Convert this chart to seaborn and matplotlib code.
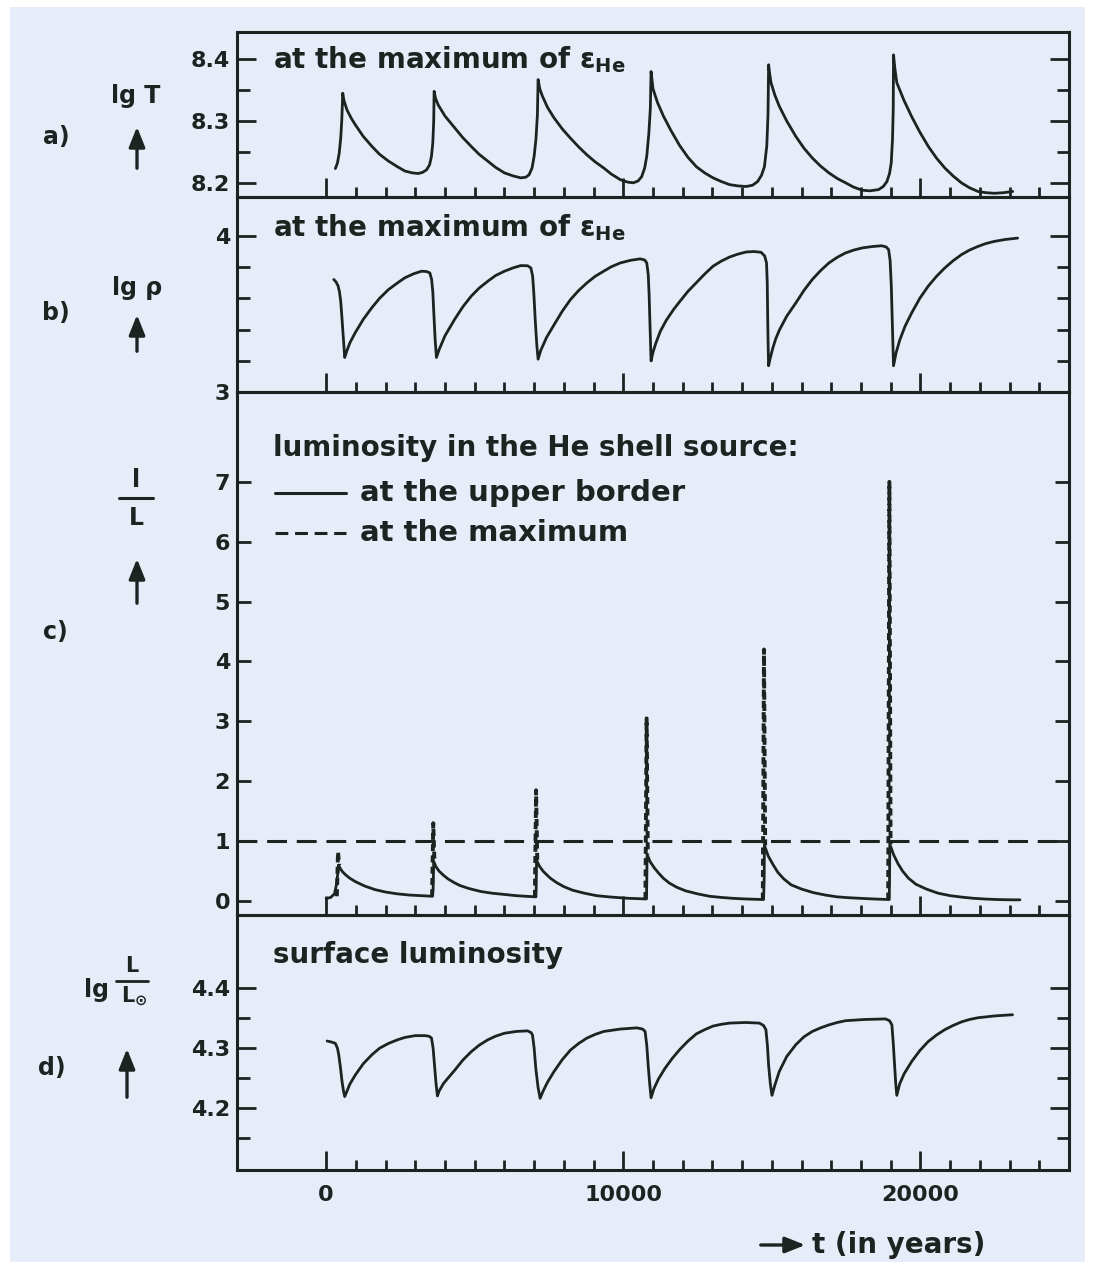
import matplotlib
matplotlib.use('Agg')
import matplotlib.pyplot as plt
import seaborn as sns
from matplotlib.lines import Line2D
from matplotlib.patches import Rectangle, FancyArrowPatch
from matplotlib.ticker import FixedLocator

# ---------------- data ----------------
# a) lg T at the maximum of eps_He
a_t = [310, 380, 440, 490, 525, 545, 558,
       600, 700, 850, 980, 1250, 1540, 1800, 2100, 2400, 2650, 2900, 3100, 3250, 3380, 3480, 3545, 3590, 3620, 3634,
       3680, 3770, 4000, 4325, 4600, 4880, 5150, 5440, 5700, 6000, 6300, 6550, 6720, 6830, 6930, 7000, 7060, 7110, 7133,
       7190, 7280, 7450, 7670, 7950, 8225, 8500, 8780, 9050, 9340, 9600, 9900, 10150, 10340, 10500, 10620, 10720, 10790, 10860, 10910, 10935,
       11000, 11150, 11350, 11600, 11900, 12180, 12460, 12740, 13020, 13300, 13580, 13850, 14130, 14350, 14520, 14650, 14750, 14830, 14870, 14891,
       14930, 14971, 15100, 15249, 15500, 15807, 16080, 16364, 16640, 16921, 17200, 17478, 17750, 18036, 18300, 18593, 18750, 18872, 18960, 19017, 19060, 19085, 19094,
       19140, 19205, 19450, 19706, 19980, 20263, 20540, 20820, 21100, 21378, 21650, 21935, 22200, 22492, 22800, 23107]
a_v = [8.223, 8.232, 8.248, 8.272, 8.300, 8.325, 8.345,
       8.333, 8.318, 8.304, 8.294, 8.275, 8.259, 8.246, 8.235, 8.226, 8.219, 8.216, 8.215, 8.217, 8.221, 8.229, 8.243, 8.265, 8.300, 8.348,
       8.337, 8.326, 8.308, 8.289, 8.273, 8.259, 8.246, 8.235, 8.225, 8.216, 8.211, 8.208, 8.209, 8.213, 8.224, 8.243, 8.270, 8.310, 8.367,
       8.352, 8.340, 8.322, 8.305, 8.287, 8.272, 8.258, 8.245, 8.234, 8.224, 8.214, 8.205, 8.201, 8.200, 8.203, 8.210, 8.224, 8.243, 8.280, 8.320, 8.380,
       8.352, 8.330, 8.308, 8.285, 8.260, 8.241, 8.226, 8.216, 8.208, 8.202, 8.197, 8.195, 8.194, 8.196, 8.202, 8.212, 8.226, 8.260, 8.310, 8.391,
       8.375, 8.362, 8.342, 8.324, 8.300, 8.275, 8.256, 8.240, 8.227, 8.216, 8.207, 8.200, 8.193, 8.188, 8.187, 8.189, 8.194, 8.202, 8.215, 8.232, 8.270, 8.320, 8.407,
       8.385, 8.362, 8.333, 8.307, 8.282, 8.259, 8.240, 8.224, 8.211, 8.200, 8.192, 8.186, 8.184, 8.183, 8.184, 8.186]

# b) lg rho at the maximum of eps_He
b_t = [257, 330, 400, 450, 490, 530, 570, 600, 625,
       700, 800, 980, 1250, 1540, 1800, 2100, 2400, 2650, 2950, 3210, 3380, 3490, 3550, 3590, 3630, 3670, 3712,
       3800, 4000, 4325, 4600, 4880, 5150, 5440, 5700, 6000, 6300, 6550, 6780, 6890, 6950, 6990, 7040, 7090, 7133,
       7220, 7420, 7670, 7950, 8225, 8500, 8780, 9050, 9340, 9600, 9900, 10250, 10570, 10720, 10790, 10840, 10870, 10900, 10935,
       11000, 11100, 11250, 11450, 11700, 11905, 12180, 12460, 12740, 13020, 13300, 13580, 13850, 14130, 14400, 14640, 14760, 14820, 14845, 14860, 14875, 14890,
       14950, 15030, 15130, 15250, 15500, 15810, 16080, 16360, 16640, 16920, 17200, 17480, 17750, 18040, 18380, 18700, 18850, 18930, 18980, 19020, 19060, 19094,
       19180, 19300, 19480, 19710, 19980, 20260, 20540, 20820, 21100, 21380, 21650, 21940, 22200, 22490, 22850, 23270]
b_v = [3.720, 3.705, 3.680, 3.640, 3.580, 3.480, 3.370, 3.290, 3.221,
       3.265, 3.315, 3.380, 3.465, 3.540, 3.600, 3.656, 3.698, 3.731, 3.757, 3.773, 3.771, 3.762, 3.720, 3.640, 3.480, 3.330, 3.221,
       3.270, 3.360, 3.465, 3.545, 3.613, 3.665, 3.709, 3.745, 3.773, 3.795, 3.809, 3.808, 3.794, 3.740, 3.630, 3.450, 3.300, 3.210,
       3.265, 3.350, 3.430, 3.518, 3.592, 3.650, 3.699, 3.740, 3.773, 3.802, 3.826, 3.843, 3.852, 3.845, 3.826, 3.750, 3.620, 3.420, 3.199,
       3.255, 3.315, 3.390, 3.460, 3.530, 3.580, 3.645, 3.700, 3.755, 3.805, 3.838, 3.864, 3.882, 3.896, 3.899, 3.894, 3.870, 3.826, 3.700, 3.465, 3.300, 3.168,
       3.220, 3.280, 3.340, 3.395, 3.485, 3.571, 3.650, 3.720, 3.777, 3.826, 3.862, 3.890, 3.908, 3.922, 3.931, 3.936, 3.928, 3.911, 3.840, 3.677, 3.400, 3.168,
       3.250, 3.330, 3.420, 3.508, 3.600, 3.677, 3.740, 3.794, 3.840, 3.879, 3.908, 3.932, 3.950, 3.964, 3.976, 3.985]

# c) l/L in the He shell source, at the upper border (solid)
c_t = [0, 150, 280, 350, 400, 420, 480, 550, 650, 800, 1000, 1300, 1650, 2000, 2400, 2800, 3200, 3580,
       3600, 3620, 3700, 3800, 3950, 4100, 4300, 4500, 4800, 5200, 5600, 6000, 6400, 6700, 7060,
       7070, 7080, 7180, 7300, 7420, 7550, 7750, 8000, 8300, 8700, 9100, 9500, 9900, 10200, 10780,
       10790, 10800, 10900, 11050, 11200, 11350, 11550, 11800, 12100, 12500, 12900, 13300, 13700, 14100, 14720,
       14740, 14750, 14880, 15050, 15200, 15400, 15650, 16000, 16400, 16800, 17200, 17600, 18000, 18400, 18950,
       18960, 18970, 19100, 19250, 19400, 19600, 19850, 20200, 20600, 21000, 21400, 21800, 22200, 22600, 23000, 23350]
c_v = [0.04, 0.06, 0.12, 0.28, 0.50, 0.60, 0.54, 0.49, 0.44, 0.38, 0.32, 0.25, 0.19, 0.15, 0.12, 0.10, 0.09, 0.08,
       0.20, 0.66, 0.57, 0.50, 0.43, 0.37, 0.31, 0.26, 0.21, 0.16, 0.13, 0.11, 0.09, 0.08, 0.07,
       0.25, 0.68, 0.58, 0.50, 0.44, 0.38, 0.31, 0.24, 0.18, 0.13, 0.09, 0.07, 0.055, 0.045, 0.035,
       0.30, 0.78, 0.66, 0.55, 0.46, 0.38, 0.30, 0.23, 0.17, 0.12, 0.08, 0.06, 0.045, 0.035, 0.025,
       0.35, 0.93, 0.75, 0.60, 0.48, 0.37, 0.27, 0.20, 0.14, 0.10, 0.07, 0.055, 0.045, 0.035, 0.025,
       0.35, 0.95, 0.77, 0.62, 0.50, 0.38, 0.28, 0.20, 0.13, 0.09, 0.065, 0.045, 0.033, 0.025, 0.021, 0.02]
# c) at the maximum (dashed spikes)
spike_t = [410, 3615, 7075, 10795, 14745, 18965]
spike_base = [0.08, 0.08, 0.07, 0.035, 0.025, 0.025]
spike_peak = [0.82, 1.30, 1.85, 3.05, 4.20, 7.00]
spike_end = [0.60, 0.66, 0.68, 0.78, 0.93, 0.95]
ref_level = 1.0

# d) surface luminosity lg L/Lsun
d_t = [33, 200, 311, 380, 424, 480, 535, 585, 625,
       700, 800, 980, 1250, 1540, 1800, 2100, 2400, 2650, 3000, 3320, 3460, 3545, 3600, 3656, 3700, 3745,
       3800, 3950, 4325, 4600, 4880, 5150, 5440, 5700, 6000, 6400, 6780, 6900, 6945, 7000, 7056, 7130, 7200,
       7300, 7450, 7670, 7950, 8225, 8500, 8780, 9050, 9340, 9900, 10455, 10650, 10734, 10790, 10846, 10890, 10935,
       11030, 11180, 11400, 11650, 11905, 12180, 12460, 12740, 13020, 13300, 13580, 14100, 14580, 14720, 14800, 14850, 14890, 14950, 15004,
       15100, 15250, 15500, 15810, 16080, 16360, 16640, 16920, 17200, 17480, 18100, 18820, 18960, 19040, 19090, 19130, 19170, 19205,
       19300, 19450, 19710, 19980, 20260, 20540, 20820, 21100, 21380, 21650, 21940, 22500, 23100]
d_v = [4.312, 4.310, 4.308, 4.300, 4.289, 4.268, 4.244, 4.228, 4.219,
       4.228, 4.240, 4.255, 4.274, 4.289, 4.300, 4.308, 4.314, 4.318, 4.321, 4.321, 4.320, 4.317, 4.300, 4.266, 4.240, 4.220,
       4.228, 4.241, 4.263, 4.280, 4.294, 4.305, 4.314, 4.320, 4.325, 4.328, 4.329, 4.326, 4.322, 4.300, 4.266, 4.235, 4.216,
       4.228, 4.243, 4.261, 4.281, 4.297, 4.308, 4.317, 4.323, 4.328, 4.332, 4.334, 4.332, 4.328, 4.305, 4.266, 4.240, 4.217,
       4.232, 4.248, 4.266, 4.283, 4.298, 4.312, 4.324, 4.331, 4.337, 4.340, 4.342, 4.343, 4.342, 4.338, 4.331, 4.305, 4.272, 4.240, 4.221,
       4.238, 4.261, 4.286, 4.306, 4.319, 4.328, 4.334, 4.339, 4.343, 4.346, 4.348, 4.349, 4.346, 4.339, 4.305, 4.272, 4.240, 4.221,
       4.240, 4.257, 4.278, 4.296, 4.311, 4.322, 4.331, 4.338, 4.344, 4.348, 4.351, 4.354, 4.356]

x_major = [0, 10000, 20000]
x_major_labels = ['0', '10000', '20000']
x_minor = list(range(0, 25000, 1000))

# ---------------- styling ----------------
sns.set_theme(style='ticks')
plt.rcParams['font.family'] = ['DejaVu Sans']
plt.rcParams['font.weight'] = 'bold'
plt.rcParams['mathtext.fontset'] = 'dejavusans'
plt.rcParams['mathtext.default'] = 'bf'

W, H = 1093, 1267
BG = '#e7edf8'
INK = '#1d2321'
LW = 2.0
TICKFS = 16
TXTFS = 20

fig = plt.figure(figsize=(W / 100, H / 100), dpi=100)
fig.patch.set_facecolor('white')
fig.add_artist(Rectangle((10 / W, 1 - 1262 / H), 1075 / W, 1255 / H,
                         transform=fig.transFigure, facecolor=BG,
                         edgecolor='none', zorder=-10))

def P(x, y):
    return (x / W, 1 - y / H)

L0, R0 = 237, 1069
def add_ax(top, bottom):
    return fig.add_axes([L0 / W, 1 - bottom / H, (R0 - L0) / W, (bottom - top) / H])

ax_a = add_ax(32, 197)
ax_b = add_ax(197, 392)
ax_c = add_ax(392, 915)
ax_d = add_ax(915, 1170)

def style(ax, ymaj, ymaj_lab, ymin, ylim, last=False, ymaj_len=14):
    ax.set_facecolor('none')
    ax.set_xlim(-3000, 25000)
    ax.set_ylim(*ylim)
    ax.set_xticks(x_major)
    ax.xaxis.set_minor_locator(FixedLocator(x_minor))
    ax.set_yticks(ymaj)
    ax.set_yticklabels(ymaj_lab, fontweight='bold')
    ax.yaxis.set_minor_locator(FixedLocator(ymin))
    for s in ax.spines.values():
        s.set_linewidth(2.2)
        s.set_color(INK)
        s.set_visible(True)
    ax.tick_params(axis='x', which='major', direction='in', length=14, width=2,
                   color=INK, bottom=True, top=False, labelbottom=last,
                   labelsize=TICKFS, labelcolor=INK, pad=11)
    ax.tick_params(axis='x', which='minor', direction='in', length=7, width=2,
                   color=INK, bottom=True, top=False)
    ax.tick_params(axis='y', which='major', direction='in', length=ymaj_len, width=2,
                   color=INK, left=True, right=True, labelsize=TICKFS,
                   labelcolor=INK, pad=5)
    ax.tick_params(axis='y', which='minor', direction='in', length=9, width=2,
                   color=INK, left=True, right=True)
    ax.set_xlabel('')
    ax.set_ylabel('')
    if last:
        ax.set_xticklabels(x_major_labels, fontweight='bold')

# draw curves
sns.lineplot(x=a_t, y=a_v, ax=ax_a, sort=False, estimator=None, color=INK, lw=LW)
sns.lineplot(x=b_t, y=b_v, ax=ax_b, sort=False, estimator=None, color=INK, lw=LW)
sns.lineplot(x=c_t, y=c_v, ax=ax_c, sort=False, estimator=None, color=INK, lw=LW)
for t, b0, pk, e in zip(spike_t, spike_base, spike_peak, spike_end):
    sns.lineplot(x=[t - 50, t - 10, t + 30], y=[b0, pk, e], ax=ax_c, sort=False,
                 estimator=None, color=INK, lw=2.8, linestyle=(0, (1.8, 1.1)))
ax_c.axhline(ref_level, color=INK, lw=2.2, linestyle=(0, (6.5, 3.2)))
sns.lineplot(x=d_t, y=d_v, ax=ax_d, sort=False, estimator=None, color=INK, lw=LW)

style(ax_a, [8.2, 8.3, 8.4], ['8.2', '8.3', '8.4'], [8.25, 8.35], (8.177, 8.444))
style(ax_b, [3, 4], ['3', '4'], [3.2, 3.4, 3.6, 3.8], (3.0, 4.248))
style(ax_c, list(range(0, 8)), [str(i) for i in range(0, 8)], [], (-0.233, 8.5), ymaj_len=10)
style(ax_d, [4.2, 4.3, 4.4], ['4.2', '4.3', '4.4'], [4.15, 4.25, 4.35], (4.096, 4.523), last=True)

# ---------------- texts inside the panels ----------------
def T(x, y, s, fs=TXTFS, ha='left', va='baseline', **kw):
    fig.text(*P(x, y), s, fontsize=fs, ha=ha, va=va, color=INK, fontweight='bold', **kw)

T(273, 68, r'at the maximum of $\epsilon_{\mathbf{He}}$')
T(273, 236, r'at the maximum of $\epsilon_{\mathbf{He}}$')
T(273, 456, 'luminosity in the He shell source:')
T(360, 501, 'at the upper border', fs=21)
T(360, 541, 'at the maximum', fs=21)
fig.add_artist(Line2D([275 / W, 346 / W], [1 - 493 / H, 1 - 493 / H], color=INK, lw=2.2))
fig.add_artist(Line2D([275 / W, 346 / W], [1 - 533 / H, 1 - 533 / H], color=INK, lw=2.2,
                      linestyle=(0, (4.2, 2.2))))
T(273, 963, 'surface luminosity')

# ---------------- left labels ----------------
def C(x, y, s, fs=TICKFS + 1):
    fig.text(*P(x, y), s, fontsize=fs, ha='center', va='center', color=INK, fontweight='bold')

def arrow(x, y0, y1):
    fig.add_artist(FancyArrowPatch(
        P(x, y0), P(x, y1), transform=fig.transFigure,
        arrowstyle='-|>,head_length=0.55,head_width=0.22',
        mutation_scale=22, lw=2.4, color=INK))

C(56, 137, 'a)')
C(136, 96, 'lg T')
arrow(137, 171, 124)

C(56, 313, 'b)')
C(137, 288, 'lg ρ')
arrow(137, 354, 312)

C(55, 632, 'c)')
C(136, 480, 'l')
fig.add_artist(Line2D([119 / W, 153 / W], [1 - 498 / H, 1 - 498 / H], color=INK, lw=2.2))
C(136, 518, 'L')
arrow(137, 606, 556)

C(52, 1068, 'd)')
C(97, 990, 'lg')
C(132, 966, 'L', fs=15)
fig.add_artist(Line2D([116 / W, 148 / W], [1 - 981 / H, 1 - 981 / H], color=INK, lw=2.0))
C(134, 996, r'L$_{\odot}$', fs=15)
arrow(127, 1100, 1046)

# x axis caption
fig.add_artist(FancyArrowPatch(
    P(758, 1245), P(808, 1245), transform=fig.transFigure,
    arrowstyle='-|>,head_length=0.55,head_width=0.22', mutation_scale=22, lw=2.4, color=INK))
T(812, 1245, 't (in years)', fs=20, va='center')

fig.savefig('out.png', dpi=100, facecolor=fig.get_facecolor())
